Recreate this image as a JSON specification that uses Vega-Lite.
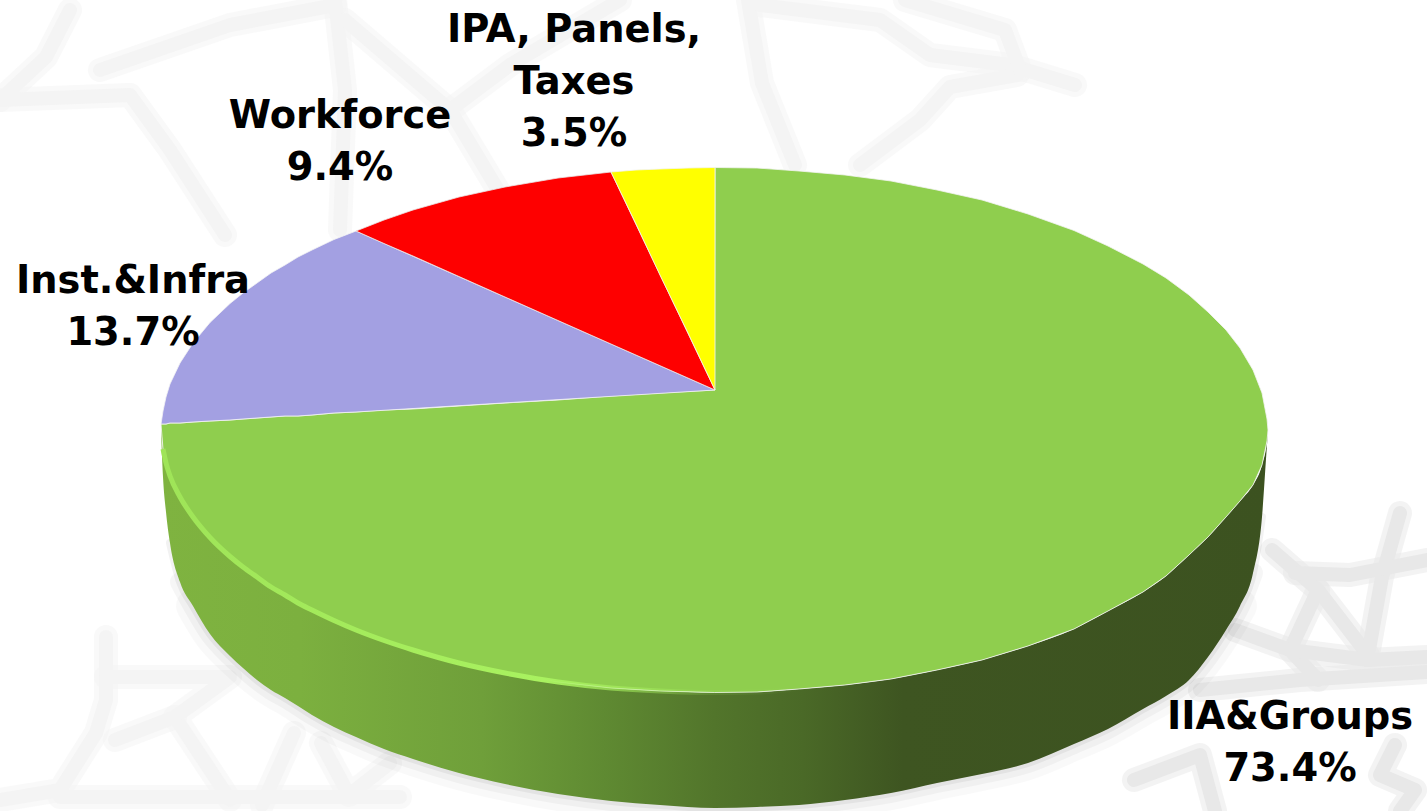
{"$schema":"https://vega.github.io/schema/vega-lite/v6.json","width":1427,"height":811,"padding":0,"autosize":{"type":"none"},"background":"white","config":{"view":{"stroke":null}},
"datasets":{
"watermark":[
{"f":"a","s":1,"q":1,"x":0,"y":100},{"f":"a","s":1,"q":2,"x":46,"y":57},{"f":"a","s":1,"q":3,"x":70,"y":10},
{"f":"a","s":2,"q":1,"x":0,"y":100},{"f":"a","s":2,"q":2,"x":130,"y":95},{"f":"a","s":2,"q":3,"x":170,"y":150},{"f":"a","s":2,"q":4,"x":225,"y":235},
{"f":"a","s":3,"q":1,"x":100,"y":70},{"f":"a","s":3,"q":2,"x":230,"y":25},{"f":"a","s":3,"q":3,"x":335,"y":5},
{"f":"a","s":4,"q":1,"x":335,"y":0},{"f":"a","s":4,"q":2,"x":345,"y":90},{"f":"a","s":4,"q":3,"x":340,"y":230},
{"f":"a","s":5,"q":1,"x":345,"y":20},{"f":"a","s":5,"q":2,"x":450,"y":110},{"f":"a","s":5,"q":3,"x":510,"y":210},
{"f":"a","s":6,"q":1,"x":450,"y":110},{"f":"a","s":6,"q":2,"x":510,"y":65},{"f":"a","s":6,"q":3,"x":620,"y":0},
{"f":"a","s":7,"q":1,"x":748,"y":0},{"f":"a","s":7,"q":2,"x":762,"y":83},{"f":"a","s":7,"q":3,"x":795,"y":165},
{"f":"a","s":8,"q":1,"x":760,"y":5},{"f":"a","s":8,"q":2,"x":880,"y":20},{"f":"a","s":8,"q":3,"x":930,"y":55},{"f":"a","s":8,"q":4,"x":1010,"y":65},{"f":"a","s":8,"q":5,"x":1075,"y":85},
{"f":"a","s":9,"q":1,"x":1017,"y":75},{"f":"a","s":9,"q":2,"x":950,"y":87},{"f":"a","s":9,"q":3,"x":920,"y":120},{"f":"a","s":9,"q":4,"x":860,"y":165},
{"f":"a","s":10,"q":1,"x":905,"y":0},{"f":"a","s":10,"q":2,"x":1005,"y":30},{"f":"a","s":10,"q":3,"x":1020,"y":70},
{"f":"b","s":11,"q":1,"x":106,"y":637},{"f":"b","s":11,"q":2,"x":106,"y":700},{"f":"b","s":11,"q":3,"x":96,"y":733},{"f":"b","s":11,"q":4,"x":60,"y":790},{"f":"b","s":11,"q":5,"x":0,"y":800},
{"f":"b","s":12,"q":1,"x":106,"y":677},{"f":"b","s":12,"q":2,"x":230,"y":677},{"f":"b","s":12,"q":3,"x":175,"y":717},{"f":"b","s":12,"q":4,"x":230,"y":800},
{"f":"b","s":13,"q":1,"x":115,"y":740},{"f":"b","s":13,"q":2,"x":175,"y":717},
{"f":"b","s":14,"q":1,"x":294,"y":733},{"f":"b","s":14,"q":2,"x":262,"y":805},
{"f":"b","s":15,"q":1,"x":321,"y":743},{"f":"b","s":15,"q":2,"x":349,"y":795},{"f":"b","s":15,"q":3,"x":390,"y":763},
{"f":"b","s":16,"q":1,"x":60,"y":797},{"f":"b","s":16,"q":2,"x":400,"y":797},
{"f":"c","s":17,"q":1,"x":1272,"y":550},{"f":"c","s":17,"q":2,"x":1318,"y":590},{"f":"c","s":17,"q":3,"x":1368,"y":655},
{"f":"c","s":18,"q":1,"x":1400,"y":513},{"f":"c","s":18,"q":2,"x":1382,"y":577},{"f":"c","s":18,"q":3,"x":1368,"y":655},
{"f":"c","s":19,"q":1,"x":1295,"y":573},{"f":"c","s":19,"q":2,"x":1350,"y":575},{"f":"c","s":19,"q":3,"x":1427,"y":560},
{"f":"c","s":20,"q":1,"x":1318,"y":590},{"f":"c","s":20,"q":2,"x":1290,"y":650},{"f":"c","s":20,"q":3,"x":1318,"y":680},
{"f":"c","s":21,"q":1,"x":1235,"y":630},{"f":"c","s":21,"q":2,"x":1290,"y":650},{"f":"c","s":21,"q":3,"x":1368,"y":660},{"f":"c","s":21,"q":4,"x":1427,"y":657},
{"f":"c","s":22,"q":1,"x":1200,"y":690},{"f":"c","s":22,"q":2,"x":1300,"y":680},{"f":"c","s":22,"q":3,"x":1427,"y":672},
{"f":"c","s":23,"q":1,"x":1134,"y":780},{"f":"c","s":23,"q":2,"x":1200,"y":755},{"f":"c","s":23,"q":3,"x":1215,"y":811},
{"f":"c","s":24,"q":1,"x":1395,"y":745},{"f":"c","s":24,"q":2,"x":1380,"y":775},{"f":"c","s":24,"q":3,"x":1415,"y":790},{"f":"c","s":24,"q":4,"x":1400,"y":811}
],
"rim":[
{"x":161,"y":424,"y2":430},{"x":163,"y":449,"y2":477},{"x":166,"y":463,"y2":512},{"x":170,"y":476,"y2":543},{"x":180,"y":497,"y2":582},{"x":193,"y":517,"y2":606},{"x":210,"y":537.5,"y2":634},{"x":230,"y":556.5,"y2":656},{"x":243,"y":567,"y2":668},{"x":257,"y":577,"y2":680},{"x":271,"y":587,"y2":690},{"x":285,"y":595,"y2":698},{"x":298,"y":603,"y2":706},{"x":312,"y":610,"y2":715},{"x":334,"y":620.5,"y2":727},{"x":356,"y":630,"y2":737},{"x":384,"y":640.5,"y2":749},{"x":413,"y":650,"y2":759},{"x":459,"y":663,"y2":773},{"x":505,"y":673,"y2":784},{"x":558,"y":682,"y2":794},{"x":611,"y":688,"y2":801},{"x":660,"y":691,"y2":805},{"x":715,"y":692.5,"y2":808},{"x":757,"y":692,"y2":807},{"x":799,"y":689,"y2":805},{"x":845,"y":685,"y2":800},{"x":891,"y":679,"y2":793},{"x":937,"y":670,"y2":783},{"x":982,"y":660,"y2":774},{"x":1028,"y":646,"y2":763},{"x":1074,"y":629,"y2":744},{"x":1108,"y":611,"y2":729},{"x":1143,"y":592,"y2":709},{"x":1166,"y":576,"y2":696},{"x":1189,"y":555,"y2":680},{"x":1208,"y":537,"y2":657},{"x":1226,"y":517,"y2":630},{"x":1240,"y":501,"y2":606},{"x":1253,"y":485,"y2":573},{"x":1262,"y":465,"y2":517},{"x":1267,"y":441,"y2":445},{"x":1268,"y":430,"y2":432}
],
"slices":[
{"slice":"IIA&Groups","share":73.4,"x":161,"y":424,"y2":424},{"slice":"IIA&Groups","share":73.4,"x":163,"y":424,"y2":449},{"slice":"IIA&Groups","share":73.4,"x":166,"y":424,"y2":463},{"slice":"IIA&Groups","share":73.4,"x":170,"y":423,"y2":476},{"slice":"IIA&Groups","share":73.4,"x":180,"y":423,"y2":497},{"slice":"IIA&Groups","share":73.4,"x":193,"y":422,"y2":517},{"slice":"IIA&Groups","share":73.4,"x":210,"y":421,"y2":537.5},{"slice":"IIA&Groups","share":73.4,"x":230,"y":420,"y2":556.5},{"slice":"IIA&Groups","share":73.4,"x":243,"y":419,"y2":567},{"slice":"IIA&Groups","share":73.4,"x":257,"y":418,"y2":577},{"slice":"IIA&Groups","share":73.4,"x":271,"y":417,"y2":587},{"slice":"IIA&Groups","share":73.4,"x":285,"y":416,"y2":595},{"slice":"IIA&Groups","share":73.4,"x":298,"y":416,"y2":603},{"slice":"IIA&Groups","share":73.4,"x":312,"y":415,"y2":610},{"slice":"IIA&Groups","share":73.4,"x":334,"y":413,"y2":620.5},{"slice":"IIA&Groups","share":73.4,"x":356,"y":412,"y2":630},{"slice":"IIA&Groups","share":73.4,"x":384,"y":410,"y2":640.5},{"slice":"IIA&Groups","share":73.4,"x":413,"y":409,"y2":650},{"slice":"IIA&Groups","share":73.4,"x":459,"y":406,"y2":663},{"slice":"IIA&Groups","share":73.4,"x":505,"y":403,"y2":673},{"slice":"IIA&Groups","share":73.4,"x":558,"y":400,"y2":682},{"slice":"IIA&Groups","share":73.4,"x":611,"y":396,"y2":688},{"slice":"IIA&Groups","share":73.4,"x":660,"y":393,"y2":691},{"slice":"IIA&Groups","share":73.4,"x":714.5,"y":390,"y2":692.5},{"slice":"IIA&Groups","share":73.4,"x":715,"y":167.5,"y2":692.5},{"slice":"IIA&Groups","share":73.4,"x":757,"y":168,"y2":692},{"slice":"IIA&Groups","share":73.4,"x":799,"y":171,"y2":689},{"slice":"IIA&Groups","share":73.4,"x":845,"y":175,"y2":685},{"slice":"IIA&Groups","share":73.4,"x":891,"y":181,"y2":679},{"slice":"IIA&Groups","share":73.4,"x":937,"y":190,"y2":670},{"slice":"IIA&Groups","share":73.4,"x":982,"y":200,"y2":660},{"slice":"IIA&Groups","share":73.4,"x":1028,"y":214,"y2":646},{"slice":"IIA&Groups","share":73.4,"x":1074,"y":230.5,"y2":629},{"slice":"IIA&Groups","share":73.4,"x":1108,"y":246,"y2":611},{"slice":"IIA&Groups","share":73.4,"x":1143,"y":264,"y2":592},{"slice":"IIA&Groups","share":73.4,"x":1166,"y":278,"y2":576},{"slice":"IIA&Groups","share":73.4,"x":1189,"y":295,"y2":555},{"slice":"IIA&Groups","share":73.4,"x":1208,"y":312,"y2":537},{"slice":"IIA&Groups","share":73.4,"x":1226,"y":330,"y2":517},{"slice":"IIA&Groups","share":73.4,"x":1240,"y":348,"y2":501},{"slice":"IIA&Groups","share":73.4,"x":1253,"y":370,"y2":485},{"slice":"IIA&Groups","share":73.4,"x":1262,"y":393,"y2":465},{"slice":"IIA&Groups","share":73.4,"x":1267,"y":419,"y2":441},{"slice":"IIA&Groups","share":73.4,"x":1268,"y":430,"y2":430},
{"slice":"Inst.&Infra","share":13.7,"x":161,"y":424,"y2":424},{"slice":"Inst.&Infra","share":13.7,"x":163,"y":411,"y2":424},{"slice":"Inst.&Infra","share":13.7,"x":166,"y":397,"y2":424},{"slice":"Inst.&Infra","share":13.7,"x":170,"y":384,"y2":423},{"slice":"Inst.&Infra","share":13.7,"x":180,"y":363,"y2":423},{"slice":"Inst.&Infra","share":13.7,"x":193,"y":343,"y2":422},{"slice":"Inst.&Infra","share":13.7,"x":210,"y":322.5,"y2":421},{"slice":"Inst.&Infra","share":13.7,"x":230,"y":303.5,"y2":420},{"slice":"Inst.&Infra","share":13.7,"x":243,"y":293,"y2":419},{"slice":"Inst.&Infra","share":13.7,"x":257,"y":283,"y2":418},{"slice":"Inst.&Infra","share":13.7,"x":271,"y":273,"y2":417},{"slice":"Inst.&Infra","share":13.7,"x":285,"y":265,"y2":416},{"slice":"Inst.&Infra","share":13.7,"x":298,"y":257,"y2":416},{"slice":"Inst.&Infra","share":13.7,"x":312,"y":250,"y2":415},{"slice":"Inst.&Infra","share":13.7,"x":334,"y":239.5,"y2":413},{"slice":"Inst.&Infra","share":13.7,"x":356,"y":231,"y2":412},{"slice":"Inst.&Infra","share":13.7,"x":715,"y":390,"y2":390},
{"slice":"Workforce","share":9.4,"x":356,"y":231,"y2":231},{"slice":"Workforce","share":9.4,"x":384,"y":220,"y2":243.5},{"slice":"Workforce","share":9.4,"x":413,"y":210,"y2":256},{"slice":"Workforce","share":9.4,"x":459,"y":197,"y2":276.5},{"slice":"Workforce","share":9.4,"x":505,"y":187,"y2":297},{"slice":"Workforce","share":9.4,"x":558,"y":178,"y2":320.5},{"slice":"Workforce","share":9.4,"x":611,"y":172,"y2":344},{"slice":"Workforce","share":9.4,"x":715,"y":390,"y2":390},
{"slice":"IPA, Panels, Taxes","share":3.5,"x":611,"y":172,"y2":172},{"slice":"IPA, Panels, Taxes","share":3.5,"x":636,"y":170,"y2":224},{"slice":"IPA, Panels, Taxes","share":3.5,"x":660,"y":169,"y2":275},{"slice":"IPA, Panels, Taxes","share":3.5,"x":688,"y":168,"y2":333},{"slice":"IPA, Panels, Taxes","share":3.5,"x":715,"y":167.5,"y2":390}
],
"labels":[
{"label":"IPA, Panels,\nTaxes\n3.5%","x":574,"y":42},{"label":"Workforce\n9.4%","x":340,"y":128},{"label":"Inst.&Infra\n13.7%","x":133,"y":293},{"label":"IIA&Groups\n73.4%","x":1290,"y":729}
]},
"encoding":{"x":{"field":"x","type":"quantitative","scale":{"domain":[0,1427],"nice":false,"zero":false},"axis":null},"y":{"field":"y","type":"quantitative","scale":{"domain":[811,0],"nice":false,"zero":false},"axis":null}},
"layer":[
{"data":{"name":"watermark"},"mark":{"type":"line","strokeWidth":24,"strokeCap":"round","strokeJoin":"round","opacity":0.5},"encoding":{"order":{"field":"q","type":"quantitative"},"detail":{"field":"s"},"stroke":{"field":"f","type":"nominal","legend":null,"scale":{"domain":["a","b","c"],"range":["#f4f4f4","#f4f4f4","#e8e8e8"]}}}},
{"data":{"name":"watermark"},"mark":{"type":"line","strokeWidth":14,"strokeCap":"round","strokeJoin":"round"},"encoding":{"order":{"field":"q","type":"quantitative"},"detail":{"field":"s"},"stroke":{"field":"f","type":"nominal","legend":null,"scale":{"domain":["a","b","c"],"range":["#f4f4f4","#f4f4f4","#e8e8e8"]}}}},
{"data":{"name":"rim"},"transform":[{"filter":"datum.x>=193 && datum.x<=1240"}],"mark":{"type":"line","interpolate":"monotone","strokeWidth":34,"strokeCap":"round","color":"#000","opacity":0.025},"encoding":{"y":{"field":"y2","type":"quantitative","scale":{"domain":[811,0],"nice":false,"zero":false},"axis":null}}},
{"data":{"name":"rim"},"transform":[{"filter":"datum.x>=180 && datum.x<=1253"}],"mark":{"type":"line","interpolate":"monotone","strokeWidth":20,"strokeCap":"round","color":"#000","opacity":0.035},"encoding":{"y":{"field":"y2","type":"quantitative","scale":{"domain":[811,0],"nice":false,"zero":false},"axis":null}}},
{"data":{"name":"rim"},"transform":[{"filter":"datum.x>=170 && datum.x<=1262"}],"mark":{"type":"line","interpolate":"monotone","strokeWidth":8,"strokeCap":"round","color":"#000","opacity":0.05},"encoding":{"y":{"field":"y2","type":"quantitative","scale":{"domain":[811,0],"nice":false,"zero":false},"axis":null}}},
{"data":{"name":"rim"},"mark":{"type":"area","interpolate":"monotone","fill":{"gradient":"linear","x1":0,"x2":1,"y1":0,"y2":0,"stops":[{"offset":0,"color":"#7fb340"},{"offset":0.125,"color":"#7cb03f"},{"offset":0.29,"color":"#6f9f3a"},{"offset":0.4,"color":"#5f8a32"},{"offset":0.5,"color":"#52752b"},{"offset":0.58,"color":"#4a6927"},{"offset":0.67,"color":"#3e5521"},{"offset":1,"color":"#3c5220"}]}},"encoding":{"y2":{"field":"y2"}}},
{"data":{"name":"slices"},"mark":{"type":"area","strokeWidth":0.8},"encoding":{"y2":{"field":"y2"},"color":{"field":"slice","type":"nominal","legend":null,"scale":{"domain":["IIA&Groups","Inst.&Infra","Workforce","IPA, Panels, Taxes"],"range":["#8fce4e","#a3a0e2","#fe0000","#ffff00"]}},"stroke":{"field":"slice","type":"nominal","legend":null,"scale":{"domain":["IIA&Groups","Inst.&Infra","Workforce","IPA, Panels, Taxes"],"range":["#8fce4e","#a3a0e2","#fe0000","#ffff00"]}}}},
{"data":{"name":"rim"},"transform":[{"filter":"datum.x>=163 && datum.x<=799"}],"mark":{"type":"line","interpolate":"monotone","strokeWidth":5,"stroke":{"gradient":"linear","x1":0,"x2":1,"y1":0,"y2":0,"stops":[{"offset":0,"color":"#9fe458"},{"offset":0.6,"color":"#a9f260"},{"offset":0.85,"color":"rgba(169,242,96,0.15)"},{"offset":1,"color":"rgba(169,242,96,0)"}]}}},
{"data":{"name":"labels"},"mark":{"type":"text","font":"DejaVu Sans","fontWeight":"bold","fontSize":38.4,"color":"#000","align":"center","baseline":"alphabetic","lineBreak":"\n","lineHeight":52},"encoding":{"text":{"field":"label","type":"nominal"}}}
]}
